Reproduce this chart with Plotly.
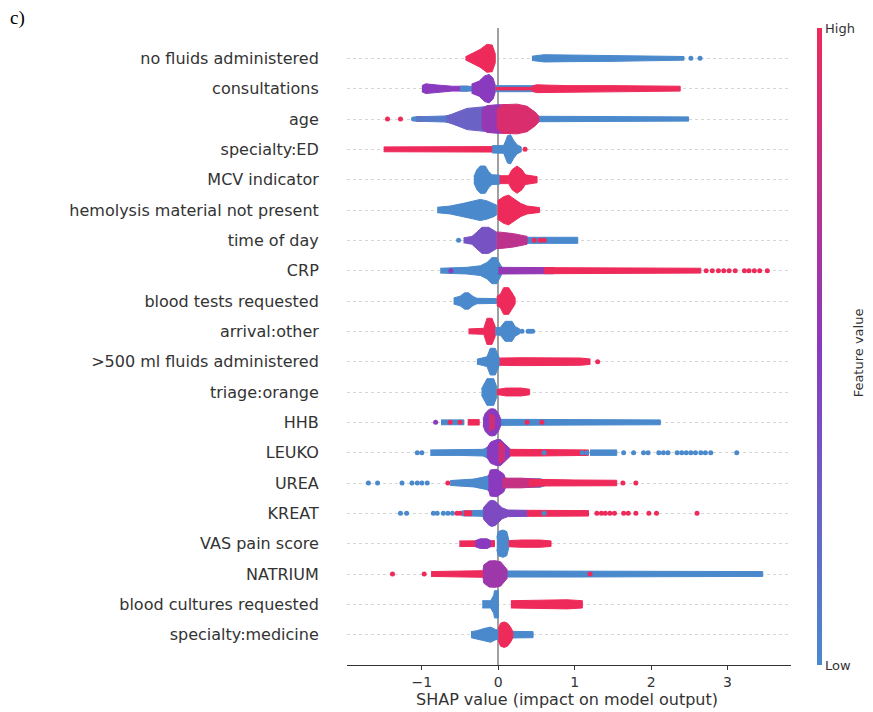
import plotly.graph_objects as go
from plotly.colors import sample_colorscale

# SHAP summary (beeswarm) - features from top to bottom
features = ["no fluids administered", "consultations", "age", "specialty:ED",
            "MCV indicator", "hemolysis material not present", "time of day", "CRP",
            "blood tests requested", "arrival:other", ">500 ml fluids administered",
            "triage:orange", "HHB", "LEUKO", "UREA", "KREAT", "VAS pain score",
            "NATRIUM", "blood cultures requested", "specialty:medicine"]

x_ticks = [-1, 0, 1, 2, 3]
x_tick_text = ["\u22121", "0", "1", "2", "3"]

# bands: (feature value 0..1, SHAP values, half height of the swarm in rows)
# dots: (feature value, SHAP values of single points)
no_fluids_bands = [(1.0, [-0.43, -0.32, -0.24, -0.15, -0.08, -0.04], [0.05, 0.2, 0.29, 0.46, 0.44, 0.15]),
                   (0.0, [0.44, 0.6, 0.9, 1.5, 2.0, 2.43], [0.07, 0.12, 0.11, 0.1, 0.09, 0.06])]
no_fluids_dots = [(0.0, [2.52, 2.64])]

consult_bands = [(0.5, [-1.0, -0.95, -0.8, -0.6, -0.4], [0.1, 0.16, 0.12, 0.08, 0.08]),
                 (0.0, [-0.5, -0.35], [0.08, 0.08]),
                 (0.5, [-0.35, -0.25, -0.18, -0.12, -0.07, -0.04], [0.15, 0.25, 0.42, 0.47, 0.35, 0.12]),
                 (0.0, [-0.04, 0.2, 0.55], [0.1, 0.1, 0.1]),
                 (1.0, [-0.04, 0.46], [0.04, 0.04]),
                 (1.0, [0.44, 0.5, 0.6, 0.9, 1.5, 2.0, 2.38], [0.08, 0.13, 0.12, 0.1, 0.1, 0.09, 0.08])]
consult_dots = []

age_bands = [(1.0, [-1.07, -0.98], [0.08, 0.08]),
             (0.1, [-1.1, -0.9, -0.7, -0.63], [0.07, 0.08, 0.1, 0.13]),
             (0.0, [0.5, 0.8, 1.5, 2.0, 2.49], [0.09, 0.09, 0.09, 0.08, 0.07]),
             (0.25, [-0.68, -0.63, -0.54, -0.41, -0.28, -0.15, -0.05], [0.09, 0.14, 0.22, 0.35, 0.38, 0.42, 0.44]),
             (0.55, [-0.22, -0.15, -0.02, 0.1, 0.2], [0.3, 0.44, 0.47, 0.47, 0.4]),
             (0.9, [-0.02, 0.05, 0.245, 0.376, 0.485, 0.53], [0.3, 0.47, 0.49, 0.42, 0.22, 0.09])]
age_dots = [(1.0, [-1.45, -1.28]), (0.0, [-1.11])]

spec_ed_bands = [(1.0, [-1.5, -1.0, -0.5, -0.06], [0.08, 0.08, 0.09, 0.09]),
                 (0.0, [-0.08, 0.07, 0.10, 0.12, 0.16, 0.2, 0.245, 0.3], [0.12, 0.13, 0.3, 0.45, 0.48, 0.3, 0.15, 0.08])]
spec_ed_dots = [(1.0, [0.35])]

mcv_bands = [(0.0, [-0.32, -0.28, -0.236, -0.17, -0.127, -0.083, 0.017], [0.1, 0.33, 0.45, 0.45, 0.27, 0.16, 0.15]),
             (1.0, [0.017, 0.135, 0.18, 0.245, 0.31, 0.354, 0.507], [0.13, 0.13, 0.33, 0.45, 0.33, 0.16, 0.1])]
mcv_dots = []

hemo_bands = [(0.0, [-0.8, -0.63, -0.455, -0.32, -0.236, -0.148, -0.06, -0.02], [0.09, 0.13, 0.22, 0.3, 0.35, 0.3, 0.22, 0.16]),
              (1.0, [-0.01, 0.07, 0.135, 0.2, 0.29, 0.376, 0.54], [0.3, 0.44, 0.49, 0.38, 0.22, 0.13, 0.08])]
hemo_dots = []

time_bands = [(0.0, [0.35, 0.6, 1.04], [0.1, 0.1, 0.1]),
              (0.35, [-0.455, -0.345, -0.28, -0.214, -0.127, -0.06, -0.02], [0.08, 0.13, 0.27, 0.43, 0.43, 0.33, 0.27]),
              (0.75, [-0.02, 0.026, 0.2, 0.376], [0.27, 0.27, 0.22, 0.13])]
time_dots = [(0.0, [-0.52]), (1.0, [0.47, 0.55, 0.6])]

crp_bands = [(0.0, [-0.76, -0.41, -0.236, -0.148, -0.083, -0.02, 0.004, 0.05], [0.08, 0.11, 0.16, 0.27, 0.43, 0.43, 0.3, 0.1]),
             (0.55, [0.0, 0.376, 0.725], [0.11, 0.1, 0.1]),
             (1.0, [0.6, 1.0, 2.0, 2.65], [0.1, 0.1, 0.09, 0.08])]
crp_dots = [(0.5, [-0.62]), (1.0, [2.72, 2.8, 2.88, 2.95, 3.02, 3.1, 3.22, 3.28, 3.35, 3.42, 3.52])]

tests_bands = [(0.0, [-0.585, -0.5, -0.44, -0.39, -0.33, -0.28, -0.02], [0.1, 0.16, 0.27, 0.27, 0.15, 0.09, 0.08]),
               (1.0, [-0.02, 0.026, 0.07, 0.135, 0.18, 0.22], [0.15, 0.22, 0.44, 0.44, 0.27, 0.1])]
tests_dots = []

arrival_bands = [(1.0, [-0.39, -0.19, -0.148, -0.083, -0.04], [0.08, 0.1, 0.43, 0.43, 0.16]),
                 (0.0, [-0.04, 0.026, 0.09, 0.18, 0.22, 0.28], [0.12, 0.13, 0.33, 0.33, 0.16, 0.08])]
arrival_dots = [(0.0, [0.31, 0.39, 0.42, 0.45])]

fluids_bands = [(0.0, [-0.28, -0.148, -0.105, -0.04, 0.017], [0.08, 0.16, 0.44, 0.44, 0.1]),
                (1.0, [0.017, 0.3, 1.075, 1.2], [0.12, 0.13, 0.12, 0.09])]
fluids_dots = [(1.0, [1.30])]

triage_bands = [(0.0, [-0.22, -0.148, -0.06, -0.02], [0.1, 0.44, 0.44, 0.16]),
                (1.0, [-0.02, 0.1, 0.3, 0.41], [0.08, 0.13, 0.13, 0.09])]
triage_dots = []

hhb_bands = [(0.0, [-0.75, -0.45], [0.08, 0.08]),
             (1.0, [-0.4, -0.25], [0.09, 0.09]),
             (0.0, [0.0, 0.5, 1.5, 2.12], [0.1, 0.1, 0.09, 0.08]),
             (0.5, [-0.2, -0.17, -0.12, -0.083, -0.04, 0.0, 0.03], [0.1, 0.3, 0.43, 0.45, 0.43, 0.3, 0.12]),
             (0.85, [-0.12, -0.05], [0.3, 0.2])]
hhb_dots = [(0.5, [-0.82]), (1.0, [-0.63, -0.5, 0.376, 0.57])]

leuko_bands = [(0.0, [-0.89, -0.5, -0.2, -0.12], [0.09, 0.09, 0.11, 0.2]),
               (0.5, [-0.15, -0.1, -0.02, 0.026, 0.08, 0.157], [0.15, 0.35, 0.43, 0.43, 0.3, 0.12]),
               (0.85, [0.0, 0.03, 0.08], [0.3, 0.35, 0.25]),
               (1.0, [0.15, 0.5, 1.0, 1.18], [0.11, 0.11, 0.1, 0.09]),
               (0.0, [1.2, 1.55], [0.09, 0.09])]
leuko_dots = [(0.0, [-1.06, -1.0, 0.6, 1.1, 1.16, 1.64, 1.77, 1.90, 1.96, 2.10, 2.16, 2.22,
                     2.34, 2.40, 2.46, 2.52, 2.58, 2.65, 2.71, 2.78, 3.12])]

urea_bands = [(0.0, [-0.63, -0.32, -0.148, -0.105], [0.08, 0.13, 0.22, 0.3]),
              (0.0, [0.05, 0.55, 0.62], [0.14, 0.14, 0.08]),
              (0.5, [-0.13, -0.105, -0.02, 0.07, 0.1], [0.2, 0.43, 0.45, 0.3, 0.12]),
              (0.8, [0.05, 0.3, 0.55], [0.16, 0.16, 0.12]),
              (1.0, [0.4, 0.55, 1.0, 1.55], [0.1, 0.12, 0.1, 0.09])]
urea_dots = [(0.0, [-1.70, -1.58, -1.26, -1.13, -1.06, -1.0, -0.93]), (1.0, [-0.66, 1.63, 1.80])]

kreat_bands = [(0.0, [-0.48, -0.2], [0.08, 0.1]),
               (1.0, [-0.45, -0.35], [0.08, 0.08]),
               (0.4, [-0.2, -0.19, -0.12, -0.083, -0.04, 0.0, 0.05, 0.114], [0.12, 0.2, 0.4, 0.43, 0.4, 0.3, 0.18, 0.12]),
               (0.4, [0.1, 0.376], [0.11, 0.1]),
               (1.0, [0.376, 0.8, 1.18], [0.1, 0.1, 0.09])]
kreat_dots = [(0.0, [-1.28, -1.20, -0.85, -0.80, -0.72, -0.66, -0.60, 0.6]),
              (1.0, [-0.54, -0.5, 1.29, 1.35, 1.40, 1.46, 1.52, 1.64, 1.70, 1.80, 1.97, 2.07, 2.60])]

vas_bands = [(1.0, [-0.51, -0.3, -0.05], [0.09, 0.1, 0.1]),
             (0.5, [-0.3, -0.236, -0.148, -0.1], [0.1, 0.16, 0.16, 0.1]),
             (0.0, [-0.02, 0.0, 0.06, 0.11, 0.135], [0.2, 0.4, 0.45, 0.4, 0.15]),
             (1.0, [0.135, 0.3, 0.55, 0.69], [0.1, 0.12, 0.12, 0.09])]
vas_dots = []

natrium_bands = [(1.0, [-0.88, -0.5, -0.19], [0.08, 0.09, 0.11]),
                 (0.0, [0.05, 1.0, 2.0, 3.0, 3.46], [0.1, 0.1, 0.09, 0.09, 0.08]),
                 (0.6, [-0.2, -0.19, -0.12, -0.04, 0.03, 0.114], [0.12, 0.3, 0.43, 0.44, 0.4, 0.15])]
natrium_dots = [(1.0, [-1.385, -0.97, 1.2])]

cultures_bands = [(0.0, [-0.21, -0.1, -0.06, -0.05, 0.0], [0.12, 0.12, 0.3, 0.45, 0.45]),
                  (1.0, [0.165, 0.6, 0.9, 1.10], [0.12, 0.13, 0.15, 0.12])]
cultures_dots = []

medicine_bands = [(0.0, [-0.357, -0.28, -0.19, -0.10, -0.036, 0.0], [0.1, 0.13, 0.2, 0.25, 0.17, 0.15]),
                  (0.0, [0.15, 0.455], [0.11, 0.1]),
                  (1.0, [0.0, 0.03, 0.076, 0.12, 0.16, 0.19], [0.2, 0.38, 0.42, 0.38, 0.25, 0.1])]
medicine_dots = []

rows = [(no_fluids_bands, no_fluids_dots), (consult_bands, consult_dots), (age_bands, age_dots),
        (spec_ed_bands, spec_ed_dots), (mcv_bands, mcv_dots), (hemo_bands, hemo_dots),
        (time_bands, time_dots), (crp_bands, crp_dots), (tests_bands, tests_dots),
        (arrival_bands, arrival_dots), (fluids_bands, fluids_dots), (triage_bands, triage_dots),
        (hhb_bands, hhb_dots), (leuko_bands, leuko_dots), (urea_bands, urea_dots),
        (kreat_bands, kreat_dots), (vas_bands, vas_dots), (natrium_bands, natrium_dots),
        (cultures_bands, cultures_dots), (medicine_bands, medicine_dots)]

cscale = [[0.0, "rgb(74,137,204)"], [0.5, "rgb(138,58,190)"], [1.0, "rgb(238,42,90)"]]
n = len(features)

fig = go.Figure()

for i, (bands, dots) in enumerate(rows):
    y0 = n - 1 - i
    for fv, xs, hs in bands:
        col = sample_colorscale(cscale, [fv])[0]
        fig.add_trace(go.Scatter(x=xs + xs[::-1],
                                 y=[y0 + h for h in hs] + [y0 - h for h in hs[::-1]],
                                 fill="toself", fillcolor=col, mode="lines",
                                 line=dict(width=1, color=col),
                                 hoverinfo="skip", showlegend=False))
    for fv, xs in dots:
        col = sample_colorscale(cscale, [fv])[0]
        fig.add_trace(go.Scatter(x=xs, y=[y0] * len(xs), mode="markers",
                                 marker=dict(size=5, color=col),
                                 hoverinfo="skip", showlegend=False))

# colour bar only
fig.add_trace(go.Scatter(x=[None], y=[None], mode="markers", showlegend=False,
                         marker=dict(color=[0], cmin=0, cmax=1, colorscale=cscale, showscale=True,
                                     colorbar=dict(thickness=5, len=1.0, lenmode="fraction", y=0.5,
                                                   yanchor="middle", x=1.0575, xanchor="left",
                                                   xpad=0, ypad=0, outlinewidth=0,
                                                   tickvals=[0, 1], ticktext=["Low", "High"],
                                                   ticks="", tickfont=dict(size=13, color="#333333")))))

# the page body puts the figure 8px in from the top-left corner of the window
fig.update_layout(
    width=865, height=704,
    margin=dict(l=339, r=82, t=20, b=47, autoexpand=False),
    paper_bgcolor="white", plot_bgcolor="white",
    font=dict(family="DejaVu Sans", color="#333333"),
    xaxis=dict(range=[-1.98, 3.83], tickvals=x_ticks, ticktext=x_tick_text,
               showgrid=False, zeroline=True, zerolinecolor="#a0a0a0", zerolinewidth=2,
               showline=True, linecolor="#333333", linewidth=1, ticks="outside", ticklen=4,
               tickcolor="#333333", tickfont=dict(size=14, color="#333333")),
    yaxis=dict(range=[-1, n], tickvals=list(range(n)), ticktext=features[::-1],
               showgrid=True, gridcolor="#d6d6d6", gridwidth=1, griddash="dot",
               zeroline=False, showline=False, ticks="outside", ticklen=24,
               tickcolor="rgba(0,0,0,0)", tickfont=dict(size=16, color="#333333")),
    annotations=[dict(text="SHAP value (impact on model output)", xref="paper", yref="paper",
                      x=0.496, y=-0.054, xanchor="center", yanchor="middle", showarrow=False,
                      font=dict(size=16, color="#333333")),
                 dict(text="Feature value", xref="paper", yref="paper", x=1.152, y=0.49,
                      xanchor="center", yanchor="middle",
                      textangle=-90, showarrow=False, font=dict(size=13, color="#333333")),
                 dict(text="c)", xref="paper", yref="paper", x=-0.764, y=1.0157, xanchor="left",
                      yanchor="middle",
                      showarrow=False, font=dict(family="Liberation Serif", size=19, color="black"))]
)

fig.write_html("out.html")
